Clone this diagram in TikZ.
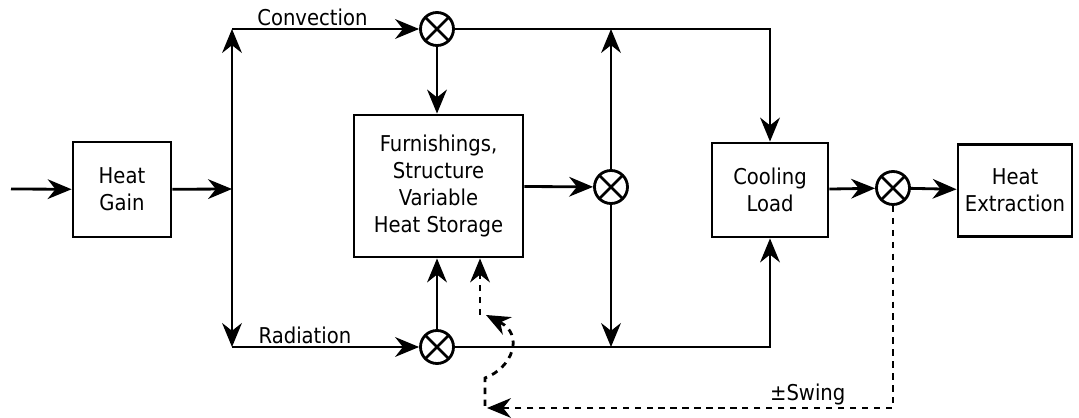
\documentclass[tikz,border=0pt]{standalone}
\usepackage{fontspec}
\setmainfont{DejaVu Sans Condensed}
\usetikzlibrary{arrows.meta}

\tikzset{
    block/.style={draw, line width=2pt, align=center, inner sep=2pt,
        font=\fontsize{15.5}{19}\selectfont},
    summer/.style={draw, circle, line width=2pt, minimum size=0.825cm, inner sep=0pt,
        path picture={
            \draw[line width=1.8pt] (path picture bounding box.north west) -- (path picture bounding box.south east);
            \draw[line width=1.8pt] (path picture bounding box.south west) -- (path picture bounding box.north east);
        }},
    flow/.style={line width=2pt, -{Stealth[length=17pt, width=14pt, inset=5.5pt]}},
    swingflow/.style={flow, dash pattern=on 4.5pt off 4pt},
    lbl/.style={font=\fontsize{15.5}{19}\selectfont, inner sep=1pt}
}

\begin{document}
\begin{tikzpicture}[x=0.025cm, y=-0.025cm]
    \useasboundingbox (0,0) rectangle (1079,418);

    % Blocks
    \node[block, minimum width=2.45cm, minimum height=2.375cm] (gain) at (122,189.5) {Heat\\Gain};
    \node[block, minimum width=4.225cm, minimum height=3.55cm] (store) at (438.5,186) {Furnishings,\\Structure\\Variable\\Heat Storage};
    \node[block, minimum width=2.9cm, minimum height=2.35cm] (cool) at (770,190) {Cooling\\Load};
    \node[block, minimum width=2.85cm, minimum height=2.3cm] (extract) at (1015,190.5) {Heat\\Extraction};

    % Summing points
    \node[summer] (conv) at (437,29) {};
    \node[summer] (rad) at (437,347) {};
    \node[summer] (mid) at (611,187) {};
    \node[summer] (out) at (893,188) {};

    % Bus and free ends
    \coordinate (in) at (11,189);
    \coordinate (busin) at (232,189);
    \coordinate (bustop) at (232,29);
    \coordinate (busbot) at (232,347);
    \coordinate (swing) at (487,408);
    \coordinate (bend) at (485,378);
    \coordinate (hook) at (486,315);
    \coordinate (tail) at (480,315);

    % Heat gain split
    \draw[flow] (in) -- (gain);
    \draw[flow] (gain) -- (busin);
    \draw[flow] (busin) -- (bustop);
    \draw[flow] (busin) -- (busbot);
    \draw[flow] (bustop) -- node[lbl, above, pos=0.43] {Convection} (conv);
    \draw[flow] (busbot) -- node[lbl, above, pos=0.39] {Radiation} (rad);

    % Storage
    \draw[flow] (conv) -- (conv |- store.north);
    \draw[flow] (rad) -- (rad |- store.south);
    \draw[flow] (store) -- (mid);
    \draw[flow] (mid) -- (mid |- conv);
    \draw[flow] (mid) -- (mid |- rad);

    % Cooling load and extraction
    \draw[flow] (conv) -| (cool);
    \draw[flow] (rad) -| (cool);
    \draw[flow] (cool) -- (out);
    \draw[flow] (out) -- (extract);

    % Swing
    \draw[swingflow] (out) -- (out |- swing) -- node[lbl, above, pos=0.21] {±Swing} (swing);
    \draw[swingflow] (485,406) -- (bend) .. controls (512,368) and (525,335) .. (hook);
    \draw[swingflow] (tail) -- (tail |- store.south);
\end{tikzpicture}
\end{document}
